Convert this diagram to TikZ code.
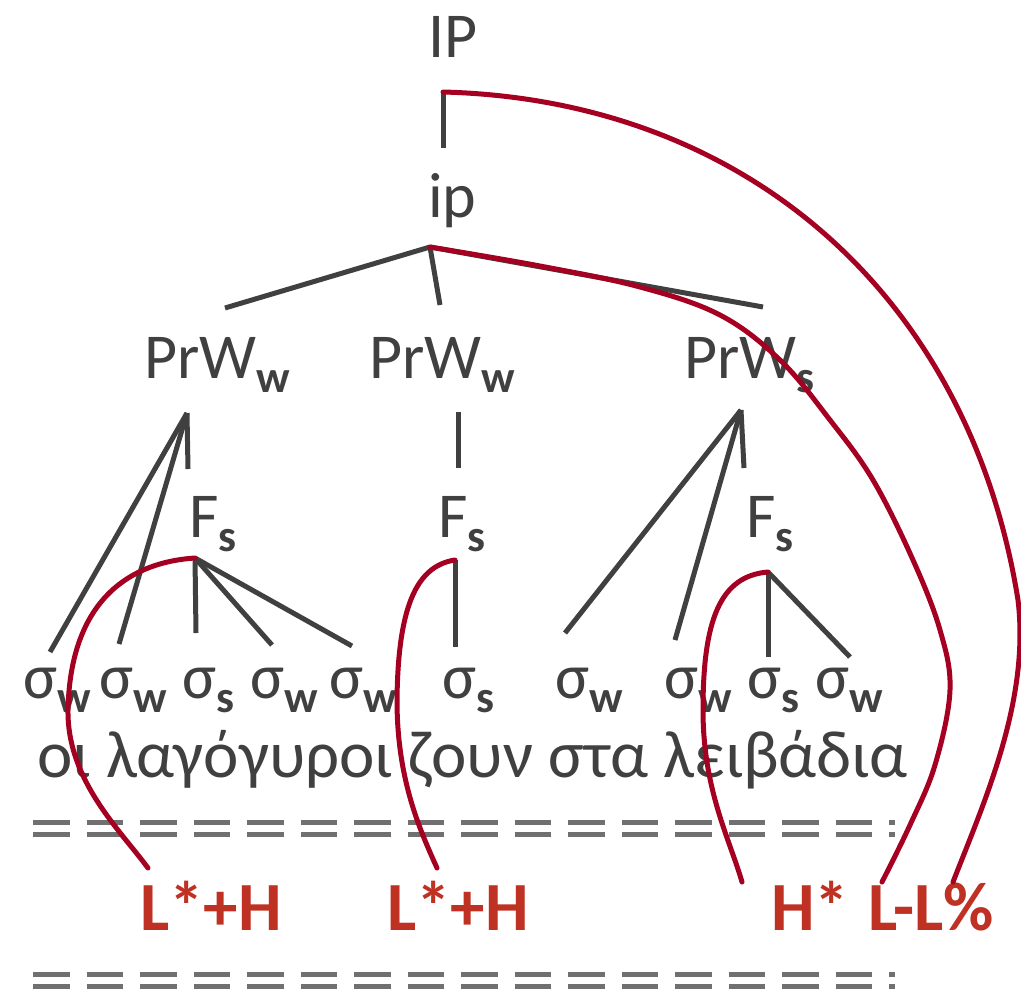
\documentclass[tikz,border=0pt]{standalone}
\usepackage{fontspec}
\setmainfont{Carlito}
\usetikzlibrary{positioning}

\definecolor{treegray}{HTML}{404040}
\definecolor{rulegray}{HTML}{707070}
\definecolor{assocred}{HTML}{A50021}
\definecolor{tonered}{HTML}{BF3122}

\newcommand{\lowsub}[1]{\raisebox{-0.22em}{\fontsize{45}{45}\selectfont\bfseries #1}}

\begin{document}
\begin{tikzpicture}[
    x=1pt, y=-1pt,
    lbl/.style={anchor=base west, inner sep=0pt, text=treegray, font=\fontsize{64}{70}\selectfont},
    tone/.style={anchor=base west, inner sep=0pt, text=tonered, font=\fontsize{69}{72}\selectfont\bfseries},
    branch/.style={draw=treegray, line width=5pt},
    assoc/.style={draw=assocred, line width=5pt, line cap=round},
    dblrule/.style={draw=rulegray, line width=5pt, dash pattern=on 36.5pt off 17pt}
]
\useasboundingbox (0,0) rectangle (1021,994);

% prosodic tree
\node[lbl] (IP) at (428,57) {IP};
\node[lbl] (ip) at (428,217) {ip};
\node[lbl] (PrW1) at (144,378) {PrW\lowsub{w}};
\node[lbl] (PrW2) at (369,378) {PrW\lowsub{w}};
\node[lbl] (PrW3) at (684,378) {PrW\lowsub{s}};
\node[lbl] (F1) at (189,537) {F\lowsub{s}};
\node[lbl] (F2) at (438,537) {F\lowsub{s}};
\node[lbl] (F3) at (746,537) {F\lowsub{s}};
\node[lbl] (syl1) at (23,698) {σ\lowsub{w}};
\node[lbl] (syl2) at (99,698) {σ\lowsub{w}};
\node[lbl] (syl3) at (182,698) {σ\lowsub{s}};
\node[lbl] (syl4) at (250,698) {σ\lowsub{w}};
\node[lbl] (syl5) at (329,698) {σ\lowsub{w}};
\node[lbl] (syl6) at (442,698) {σ\lowsub{s}};
\node[lbl] (syl7) at (555,698) {σ\lowsub{w}};
\node[lbl] (syl8) at (664,698) {σ\lowsub{w}};
\node[lbl] (syl9) at (747,698) {σ\lowsub{s}};
\node[lbl] (syl10) at (815,698) {σ\lowsub{w}};
\node[lbl, font=\fontsize{67}{70}\selectfont] (words) at (37,777) {οι λαγόγυροι ζουν στα λειβάδια};

% tones
\node[tone] (tA) at (140,930) {L*+H};
\node[tone] (tB) at (387,930) {L*+H};
\node[tone] (tC) at (771,930) {H*};
\node[tone] (tD) at (868,930) {L-L\%};

% branch ends
\coordinate (IPfoot) at (443,92);   \coordinate (iphead) at (443,148);
\coordinate (ipfoot) at (430,247);
\coordinate (PrW1head) at (225,308); \coordinate (PrW2head) at (440,305);
\coordinate (PrW3head) at (763,307);
\coordinate (PrW1foot) at (187,413); \coordinate (PrW2foot) at (458,412);
\coordinate (PrW3foot) at (741,410);
\coordinate (F1head) at (188,469); \coordinate (F2head) at (458,468);
\coordinate (F3head) at (744,468);
\coordinate (F1foot) at (195,558); \coordinate (F2foot) at (455,560);
\coordinate (F3foot) at (768,572);
\coordinate (syl1head) at (50,652);  \coordinate (syl2head) at (119,644);
\coordinate (syl3head) at (196,633); \coordinate (syl4head) at (272,645);
\coordinate (syl5head) at (352,646); \coordinate (syl6head) at (455,647);
\coordinate (syl7head) at (565,633); \coordinate (syl8head) at (675,640);
\coordinate (syl9head) at (768,657); \coordinate (syl10head) at (850,657);

\draw[branch] (IPfoot) -- (iphead);
\foreach \c in {PrW1head,PrW2head,PrW3head}
    \draw[branch] (ipfoot) -- (\c);
\foreach \c in {syl1head,syl2head,F1head}
    \draw[branch] (PrW1foot) -- (\c);
\draw[branch] (PrW2foot) -- (F2head);
\foreach \c in {syl7head,syl8head,F3head}
    \draw[branch] (PrW3foot) -- (\c);
\foreach \c in {syl3head,syl4head,syl5head}
    \draw[branch] (F1foot) -- (\c);
\draw[branch] (F2foot) -- (syl6head);
\foreach \c in {syl9head,syl10head}
    \draw[branch] (F3foot) -- (\c);

% separators
\draw[dblrule] (33,822) -- (895,822);
\draw[dblrule] (33,834) -- (895,834);
\draw[dblrule] (33,974) -- (895,974);
\draw[dblrule] (33,986) -- (895,986);

% tone ends
\coordinate (tAend) at (148,868);
\coordinate (tBend) at (437,868);
\coordinate (tCend) at (742,882);
\coordinate (tDend) at (882,882);
\coordinate (tEend) at (953,882);

% association lines
\draw[assoc] (F1foot) .. controls (120,563) and (70,610) .. (68,710)
    .. controls (67,780) and (120,830) .. (tAend);
\draw[assoc] (F2foot) .. controls (415,566) and (398,610) .. (397,700)
    .. controls (397,780) and (420,830) .. (tBend);
\draw[assoc] (F3foot) .. controls (720,576) and (703,620) .. (703,710)
    .. controls (703,790) and (730,840) .. (tCend);
\draw[assoc] plot[smooth, tension=0.6] coordinates {(ipfoot) (540,266) (640,287)
    (720,315) (780,360) (830,420) (873,480) (913,560) (940,630) (950,690)
    (935,765) (910,825) (tDend)};
\draw[assoc] (IPfoot) .. controls (750,100) and (970,300) .. (1018,600)
    .. controls (1030,700) and (985,800) .. (tEend);
\end{tikzpicture}
\end{document}
